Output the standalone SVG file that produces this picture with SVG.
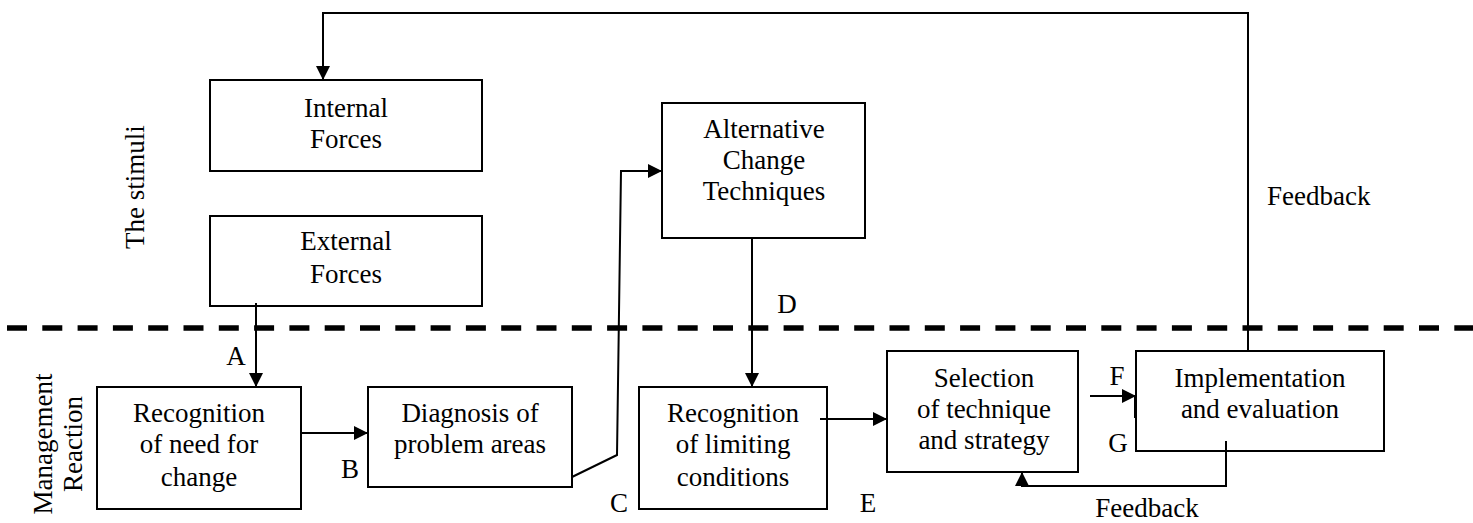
<svg xmlns="http://www.w3.org/2000/svg" width="1473" height="523" viewBox="0 0 1473 523">
<style>
.box{fill:#fff;stroke:#000;stroke-width:2}
.t,.l{font-family:'Liberation Serif','DejaVu Serif',serif;font-size:27px;fill:#000}
.t{text-anchor:middle}
.c{fill:none;stroke:#000;stroke-width:2}
.dash{fill:none;stroke:#000;stroke-width:5.3;stroke-dasharray:20 15.3}
</style>
<defs>
<marker id="ah" markerUnits="userSpaceOnUse" markerWidth="14" markerHeight="14" refX="14" refY="7" orient="auto">
<path d="M0,0 L14,7 L0,14 z" fill="#000"/>
</marker>
</defs>
<rect width="1473" height="523" fill="#fff"/>
<line class="dash" x1="7" y1="328" x2="1473" y2="328"/>
<text class="t" transform="translate(144,187) rotate(-90)">The stimuli</text>
<text class="t" transform="translate(52,444) rotate(-90)">Management</text>
<text class="t" transform="translate(82,444) rotate(-90)">Reaction</text>
<g id="internal">
<rect class="box" x="210" y="80" width="272" height="91"/>
<text class="t" x="346" y="117">Internal</text>
<text class="t" x="346" y="148">Forces</text>
</g>
<g id="external">
<rect class="box" x="210" y="216" width="272" height="90"/>
<text class="t" x="346" y="250">External</text>
<text class="t" x="346" y="283">Forces</text>
</g>
<g id="alternative">
<rect class="box" x="662" y="103" width="203" height="135"/>
<text class="t" x="764" y="138">Alternative</text>
<text class="t" x="764" y="169">Change</text>
<text class="t" x="764" y="200">Techniques</text>
</g>
<g id="recog-need">
<rect class="box" x="97" y="387" width="204" height="122"/>
<text class="t" x="199" y="422">Recognition</text>
<text class="t" x="199" y="453">of need for</text>
<text class="t" x="199" y="486">change</text>
</g>
<g id="diagnosis">
<rect class="box" x="368" y="387" width="204" height="100"/>
<text class="t" x="470" y="422">Diagnosis of</text>
<text class="t" x="470" y="453">problem areas</text>
</g>
<g id="recog-limit">
<rect class="box" x="639" y="387" width="188" height="122"/>
<text class="t" x="733" y="422">Recognition</text>
<text class="t" x="733" y="453">of limiting</text>
<text class="t" x="733" y="486">conditions</text>
</g>
<g id="selection">
<rect class="box" x="887" y="351" width="191" height="121"/>
<text class="t" x="984" y="387">Selection</text>
<text class="t" x="984" y="418">of technique</text>
<text class="t" x="984" y="449">and strategy</text>
</g>
<g id="implementation">
<rect class="box" x="1136" y="351" width="248" height="100"/>
<text class="t" x="1260" y="387">Implementation</text>
<text class="t" x="1260" y="418">and evaluation</text>
</g>
<g id="connectors">
<polyline class="c" points="1248,351 1248,13 323,13 323,80" marker-end="url(#ah)"/>
<line class="c" x1="256" y1="303" x2="256" y2="387" marker-end="url(#ah)"/>
<line class="c" x1="301" y1="433" x2="368" y2="433" marker-end="url(#ah)"/>
<polyline class="c" points="572,477 617,455 621,171 662,171" marker-end="url(#ah)"/>
<line class="c" x1="752" y1="238" x2="752" y2="387" marker-end="url(#ah)"/>
<line class="c" x1="820" y1="419" x2="887" y2="419" marker-end="url(#ah)"/>
<line class="c" x1="1090" y1="396" x2="1136" y2="396" marker-end="url(#ah)"/>
<line class="c" x1="1135" y1="396" x2="1135" y2="418"/>
<polyline class="c" points="1226,441 1226,486 1022,486 1022,472" marker-end="url(#ah)"/>
</g>
<g id="labels">
<text class="t" x="236" y="365">A</text>
<text class="t" x="350" y="478">B</text>
<text class="t" x="619" y="512">C</text>
<text class="t" x="787" y="313">D</text>
<text class="t" x="868" y="512">E</text>
<text class="t" x="1117" y="385">F</text>
<text class="t" x="1118" y="452">G</text>
<text class="l" x="1267" y="205">Feedback</text>
<text class="t" x="1147" y="517">Feedback</text>
</g>
</svg>
